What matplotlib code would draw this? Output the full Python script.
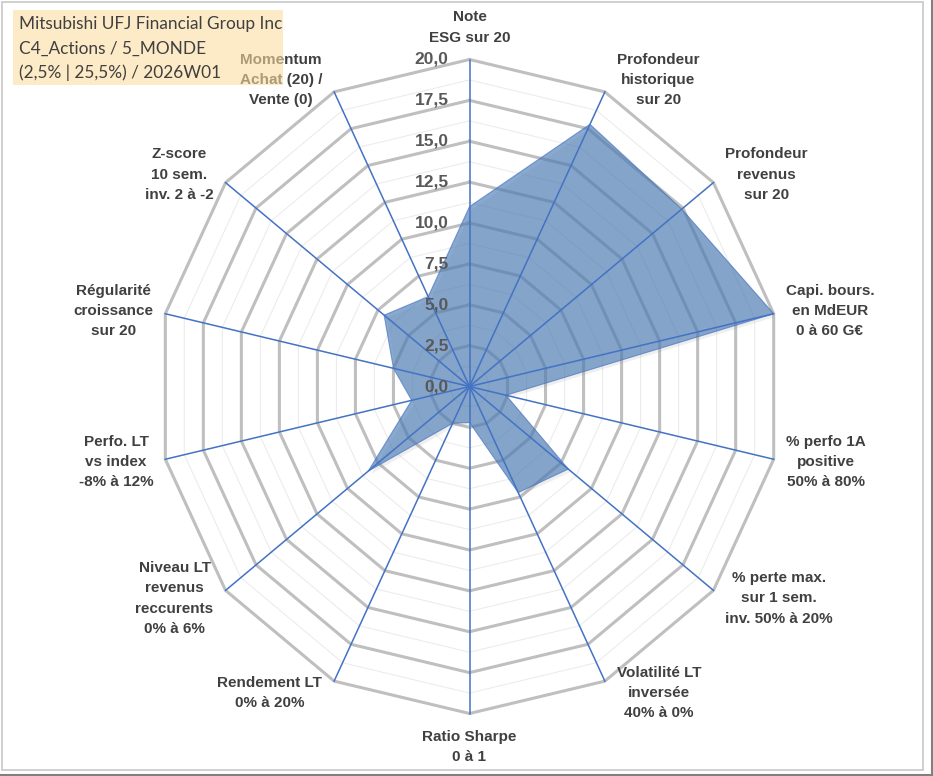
import numpy as np
import matplotlib
matplotlib.use("Agg")
import matplotlib.pyplot as plt
import matplotlib.transforms as mtransforms
from matplotlib.patches import Rectangle
from matplotlib.lines import Line2D

# ---------------------------------------------------------
# Données
# ---------------------------------------------------------
titre = [
    "Mitsubishi UFJ Financial Group Inc",
    "C4_Actions / 5_MONDE",
    "(2,5% | 25,5%) / 2026W01",
]

criteres = [
    "Note\nESG sur 20",
    "Profondeur\nhistorique\nsur 20",
    "Profondeur\nrevenus\nsur 20",
    "Capi. bours.\nen MdEUR\n0 à 60 G€",
    "% perfo 1A\npositive\n50% à 80%",
    "% perte max.\nsur 1 sem.\ninv. 50% à 20%",
    "Volatilité LT\ninversée\n40% à 0%",
    "Ratio Sharpe\n0 à 1",
    "Rendement LT\n0% à 20%",
    "Niveau LT\nrevenus\nreccurents\n0% à 6%",
    "Perfo. LT\nvs index\n-8% à 12%",
    "Régularité\ncroissance\nsur 20",
    "Z-score\n10 sem.\ninv. 2 à -2",
    "Momentum\nAchat (20) /\nVente (0)",
]

notes = [11.0, 17.8, 17.4, 20.0, 2.4, 8.1, 7.2, 2.2, 2.5, 8.3, 3.8, 5.0, 7.0, 6.1]

graduations = [0.0, 2.5, 5.0, 7.5, 10.0, 12.5, 15.0, 17.5, 20.0]
graduations_mineures = [1.25, 3.75, 6.25, 8.75, 11.25, 13.75, 16.25, 18.75]

# ---------------------------------------------------------
# Figure
# ---------------------------------------------------------
W, H = 933, 776
fig = plt.figure(figsize=(W / 100, H / 100), dpi=100)
fig.patch.set_facecolor("white")

# centre du radar ~ (469.5, 386.5) px, rayon 312 px (horiz.) / 327 px (vert.)
cx, cy, rx, ry = 469.5, 386.5, 312, 327
ax = fig.add_axes(
    [(cx - rx) / W, (H - cy - ry) / H, 2 * rx / W, 2 * ry / H], projection="polar"
)
ax.set_aspect("auto")
ax.set_theta_zero_location("N")
ax.set_theta_direction(-1)
ax.set_ylim(0, 20)
ax.grid(False)
ax.set_xticks([])
ax.set_yticks([])
ax.spines["polar"].set_visible(False)
ax.patch.set_visible(False)

n = len(criteres)
angles = np.linspace(0, 2 * np.pi, n, endpoint=False)
angles_ferme = np.append(angles, angles[0])

# --- grille polygonale ---
for r in graduations_mineures:
    ax.plot(angles_ferme, [r] * (n + 1), color="#ECECEC", lw=0.8, zorder=1, clip_on=False)
for r in graduations[1:]:
    ax.plot(angles_ferme, [r] * (n + 1), color="#BFBFBF", lw=2.2, zorder=1.5, clip_on=False)

# --- zone des notes (avec légère ombre) ---
valeurs = np.append(notes, notes[0])
ombre = ax.transData + mtransforms.ScaledTranslation(2 / 72, -2 / 72, fig.dpi_scale_trans)
ax.fill(angles_ferme, valeurs, color="#7f7f7f", alpha=0.12, lw=0, zorder=2, transform=ombre)
ax.fill(angles_ferme, valeurs, facecolor="#4D7DB6", alpha=0.66,
        edgecolor="#4472C4", lw=0.8, zorder=3)

# --- rayons ---
for a in angles:
    ax.plot([a, a], [0, 20], color="#4472C4", lw=1.1, zorder=4, clip_on=False)

# --- étiquettes des graduations (le long de l'axe vertical) ---
for r in graduations:
    ax.annotate(
        f"{r:.1f}".replace(".", ","), xy=(0, r), xytext=(-21, 0),
        textcoords="offset pixels", ha="right", va="center",
        fontsize=12.5, fontweight="bold", color="#595959",
        family="Liberation Sans", zorder=5, annotation_clip=False,
    )

# --- étiquettes des critères ---
for a, nom in zip(angles, criteres):
    s, c = np.sin(a), np.cos(a)
    if abs(s) < 0.1:
        ha = "center"
        va = "bottom" if c > 0 else "top"
        off = (0, 15 if c > 0 else -16)
    else:
        ha = "left" if s > 0 else "right"
        va = "center"
        off = (12 * np.sign(s), 13 * c)
    ax.annotate(
        nom, xy=(a, 20), xytext=off, textcoords="offset pixels",
        ha=ha, va=va, ma="center", fontsize=11, fontweight="bold",
        color="#404040", family="Liberation Sans", linespacing=1.55,
        zorder=5, annotation_clip=False,
    )

# --- cartouche du titre (semi-transparent, par-dessus le graphique) ---
fig.patches.append(Rectangle(
    (13 / W, (H - 85) / H), 270 / W, 75 / H, transform=fig.transFigure,
    facecolor="#FCDCA0", alpha=0.58, edgecolor="none", zorder=10,
))
for i, ligne in enumerate(titre):
    fig.text(19 / W, (H - 24 - i * 24.5) / H, ligne, ha="left", va="center",
             fontsize=12.4, color="#404040", family="Lato", zorder=11)

# --- bordures de la zone de graphique ---
fig.patches.append(Rectangle(
    (2 / W, (H - 770) / H), 921 / W, 768 / H, transform=fig.transFigure,
    facecolor="none", edgecolor="#C8C8C8", lw=1.2, zorder=12,
))
fig.lines.append(Line2D([931.5 / W, 931.5 / W], [0, 1], transform=fig.transFigure,
                        color="#808080", lw=1.5))
fig.lines.append(Line2D([0, 1], [0.6 / H, 0.6 / H], transform=fig.transFigure,
                        color="#808080", lw=1.5))

fig.savefig("out.png", dpi=100, facecolor=fig.get_facecolor())
